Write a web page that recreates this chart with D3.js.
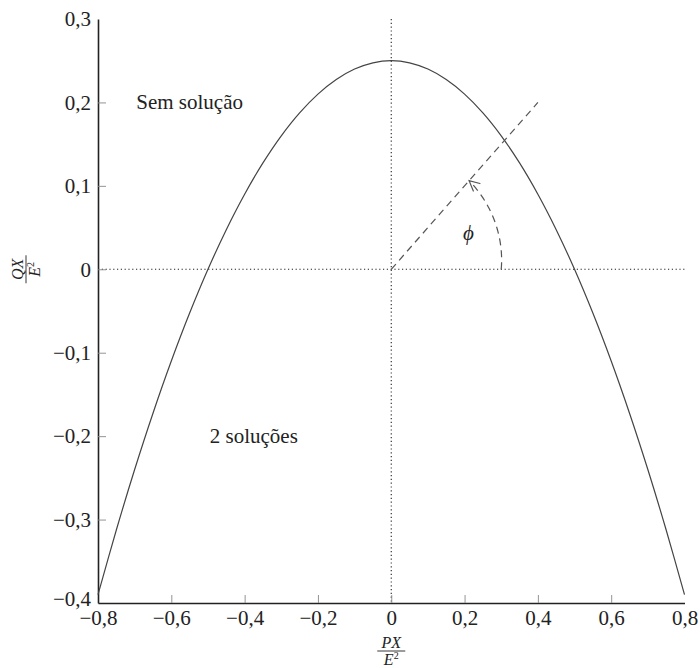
<!DOCTYPE html>
<html>
<head>
<meta charset="utf-8">
<script src="https://cdn.jsdelivr.net/npm/d3@7"></script>
<style>
  html, body { margin: 0; padding: 0; background: #fff; }
  svg text { fill: #222; }
</style>
</head>
<body>
<svg id="chart" width="700" height="668"></svg>
<script>
// Normalised power curve: Q·X/E² against P·X/E²
const pValues = [-0.8, -0.75, -0.7, -0.65, -0.6, -0.55, -0.5, -0.45, -0.4, -0.35, -0.3, -0.25, -0.2, -0.15, -0.1, -0.05,
                 0, 0.05, 0.1, 0.15, 0.2, 0.25, 0.3, 0.35, 0.4, 0.45, 0.5, 0.55, 0.6, 0.65, 0.7, 0.75, 0.8];
const qValues = [-0.39, -0.3125, -0.24, -0.1725, -0.11, -0.0525, 0, 0.0475, 0.09, 0.1275, 0.16, 0.1875, 0.21, 0.2275, 0.24, 0.2475,
                 0.25, 0.2475, 0.24, 0.2275, 0.21, 0.1875, 0.16, 0.1275, 0.09, 0.0475, 0, -0.0525, -0.11, -0.1725, -0.24, -0.3125, -0.39];

const xTicks = [-0.8, -0.6, -0.4, -0.2, 0, 0.2, 0.4, 0.6, 0.8];
const yTicks = [-0.4, -0.3, -0.2, -0.1, 0, 0.1, 0.2, 0.3];

// Load-angle ray and arc
const rayEnd = [0.4, 0.2];
const arcStartP = 0.3;

// Region labels
const regionLabels = [
  { text: "Sem solução", p: -0.55, q: 0.2 },
  { text: "2 soluções", p: -0.375, q: -0.2 }
];

const FONT = "'Liberation Serif', 'Times New Roman', Tinos, 'Noto Serif', 'DejaVu Serif', Georgia, serif";

const svg = d3.select("#chart");
const plotLeft = 98, plotRight = 684.5, plotTop = 19, plotBottom = 603;

const x = d3.scaleLinear().domain([-0.8, 0.8]).range([plotLeft, plotRight]);
const y = d3.scaleLinear().domain([-0.4, 0.3]).range([plotBottom, plotTop]);

const fmt = v => (v < 0 ? "\u2212" : "") + (Math.abs(v) < 1e-9 ? "0" : Math.abs(v).toFixed(1).replace(".", ","));

// Dotted reference lines through the origin
svg.append("line")
  .attr("x1", x(0)).attr("x2", x(0)).attr("y1", plotTop).attr("y2", plotBottom)
  .attr("stroke", "#222").attr("stroke-width", 1.1).attr("stroke-dasharray", "1.2,2.6");
svg.append("line")
  .attr("x1", plotLeft).attr("x2", plotRight).attr("y1", y(0)).attr("y2", y(0))
  .attr("stroke", "#222").attr("stroke-width", 1.1).attr("stroke-dasharray", "1.2,2.6");

// Axes
const xAxis = d3.axisBottom(x).tickValues(xTicks).tickFormat(fmt).tickSizeInner(-8).tickSizeOuter(0).tickPadding(7);
const yAxis = d3.axisLeft(y).tickValues(yTicks).tickFormat(fmt).tickSizeInner(-8).tickSizeOuter(0).tickPadding(7);

const gx = svg.append("g").attr("transform", `translate(0,${plotBottom})`).call(xAxis);
const gy = svg.append("g").attr("transform", `translate(${plotLeft},0)`).call(yAxis);
[gx, gy].forEach(g => {
  g.attr("font-family", FONT).attr("font-size", 21);
  g.select(".domain").attr("stroke", "#222").attr("stroke-width", 1.6);
  g.selectAll(".tick line").attr("stroke", "#888").attr("stroke-width", 0.9);
  g.selectAll(".tick text").attr("fill", "#222");
});
gy.selectAll(".tick").filter(d => d === 0.3 || d === -0.4).select("line").remove();
gx.selectAll(".tick").filter(d => d === -0.8 || d === 0.8).select("line").remove();
// lift the corner label clear of the first P tick label
gy.selectAll(".tick").filter(d => d === -0.4).select("text").attr("dy", "0.1em");

// Curve
const pts = pValues.map((p, i) => [p, qValues[i]]);
svg.append("path")
  .datum(pts)
  .attr("fill", "none").attr("stroke", "#444").attr("stroke-width", 1.2)
  .attr("d", d3.line().x(d => x(d[0])).y(d => y(d[1])).curve(d3.curveCatmullRom));

// Dashed ray
svg.append("line")
  .attr("x1", x(0)).attr("y1", y(0)).attr("x2", x(rayEnd[0])).attr("y2", y(rayEnd[1]))
  .attr("stroke", "#555").attr("stroke-width", 1.2).attr("stroke-dasharray", "7,5");

// Dashed arc from the P axis up to the ray, with an open arrow head
const cx = x(0), cy = y(0);
const theta = Math.atan2(y(0) - y(rayEnd[1]), x(rayEnd[0]) - x(0));
const r0 = x(arcStartP) - x(0), r1 = r0 + 8;
const arcPts = d3.range(0, 41).map(i => {
  const t = theta * i / 40, r = r0 + (r1 - r0) * i / 40;
  return [cx + r * Math.cos(t), cy - r * Math.sin(t)];
});
svg.append("path")
  .attr("d", d3.line()(arcPts))
  .attr("fill", "none").attr("stroke", "#555").attr("stroke-width", 1.2).attr("stroke-dasharray", "7,5");
const tip = arcPts[arcPts.length - 1];
const dir = [-Math.sin(theta), -Math.cos(theta)]; // tangent, screen coords
const back = [-dir[0], -dir[1]];
const perp = [-dir[1], dir[0]];
const hl = 10, hw = 5;
svg.append("path")
  .attr("d", `M${tip[0] + back[0] * hl + perp[0] * hw},${tip[1] + back[1] * hl + perp[1] * hw}L${tip[0]},${tip[1]}L${tip[0] + back[0] * hl - perp[0] * hw},${tip[1] + back[1] * hl - perp[1] * hw}`)
  .attr("fill", "none").attr("stroke", "#555").attr("stroke-width", 1.2).attr("stroke-linecap", "round");

svg.append("text")
  .attr("x", cx + 88 * Math.cos(theta / 2) - 3).attr("y", cy - 88 * Math.sin(theta / 2) + 7)
  .attr("text-anchor", "middle").attr("font-family", FONT).attr("font-size", 21).attr("font-style", "italic")
  .text("\u03D5");

// Region labels
svg.selectAll("text.region").data(regionLabels).join("text")
  .attr("class", "region")
  .attr("x", d => x(d.p)).attr("y", d => y(d.q) + 7)
  .attr("text-anchor", "middle").attr("font-family", FONT).attr("font-size", 21)
  .text(d => d.text);

// Fraction-style axis labels
function fraction(g, num, den) {
  g.attr("font-family", FONT);
  g.append("text").attr("text-anchor", "middle").attr("y", -3).attr("font-size", 16).attr("font-style", "italic").text(num);
  g.append("line").attr("x1", -14).attr("x2", 14).attr("y1", 0).attr("y2", 0).attr("stroke", "#222").attr("stroke-width", 0.9);
  const d = g.append("text").attr("text-anchor", "middle").attr("y", 14).attr("font-size", 16).attr("font-style", "italic");
  d.append("tspan").text(den);
  d.append("tspan").attr("font-size", 10).attr("font-style", "normal").attr("dy", -6).text("2");
}
fraction(svg.append("g").attr("transform", `translate(${x(0)},651)`), "PX", "E");
fraction(svg.append("g").attr("transform", `translate(26,${y(0)}) rotate(-90)`), "QX", "E");
</script>
</body>
</html>
